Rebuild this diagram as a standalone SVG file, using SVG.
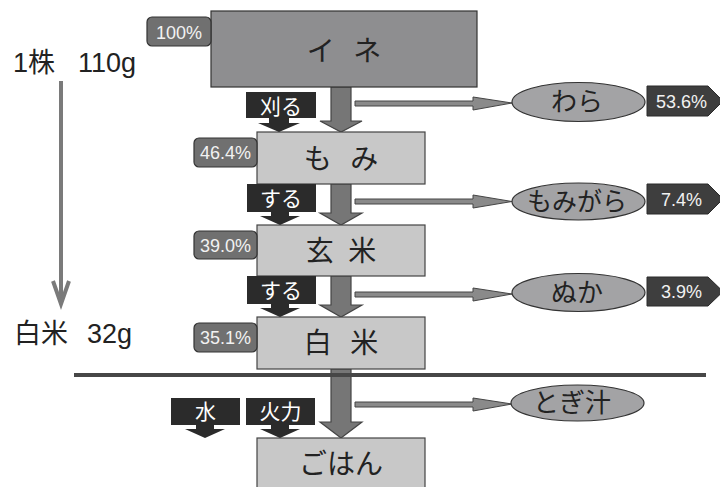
<svg xmlns="http://www.w3.org/2000/svg" width="720" height="487" viewBox="0 0 720 487">
<style>
.jp{font-family:"Noto Sans CJK JP","Liberation Sans",sans-serif;}
.num{font-family:"Liberation Sans","Noto Sans CJK JP",sans-serif;}
.boxD{fill:#8e8e90;stroke:#333;stroke-width:1.2;}
.boxL{fill:#c8c8c8;stroke:#444;stroke-width:1.2;}
.boxT{font-size:28px;fill:#222;text-anchor:middle;}
.badgeL{fill:#707070;stroke:#333;stroke-width:1.2;}
.badgeR{fill:#3e3e3e;stroke:#2a2a2a;stroke-width:1;}
.badgeT{font-size:18px;fill:#f2f2f2;text-anchor:middle;}
.lab{fill:#2b2b2b;}
.labT{font-size:21px;fill:#fff;text-anchor:middle;}
.main{fill:#767676;stroke:#444;stroke-width:1.2;}
.thin{fill:#8a8a8a;stroke:#444;stroke-width:1;}
.ell{fill:#a3a3a5;stroke:#333;stroke-width:1.2;}
.ellT{font-size:26px;fill:#222;text-anchor:middle;}
.side{font-size:27px;fill:#222;}
</style>

<g id="connectors">
  <!-- main down arrows -->
  <path class="main" d="M331,87 H351 V121 H362 L341,132 L320,121 H331 Z"/>
  <path class="main" d="M331,184 H351 V213 H362 L341,225 L320,213 H331 Z"/>
  <path class="main" d="M331,276 H351 V305 H362 L341,317 L320,305 H331 Z"/>
  <path class="main" d="M331,369 H351 V422 H362 L341,438 L320,422 H331 Z"/>
  <!-- thin side arrows -->
  <path class="thin" d="M355,101 H473 V97 L512,103 L473,110 V106 H355 Z"/>
  <path class="thin" d="M355,199 H473 V195 L512,201.5 L473,208 V204 H355 Z"/>
  <path class="thin" d="M355,292 H473 V288 L512,294 L473,301 V297 H355 Z"/>
  <path class="thin" d="M355,402 H473 V398 L512,404 L473,411 V407 H355 Z"/>
  <!-- divider -->
  <line x1="74" y1="375" x2="706" y2="375" stroke="#474747" stroke-width="4"/>
  <!-- left overall arrow -->
  <line x1="61" y1="81" x2="61" y2="303" stroke="#7a7a7a" stroke-width="4"/>
  <polyline points="53,281 61,304 69,281" fill="none" stroke="#7a7a7a" stroke-width="4" stroke-linejoin="miter"/>
</g>

<g id="ine">
  <rect class="boxD" x="211" y="11" width="266" height="76"/>
  <text class="jp boxT" x="344" y="61" word-spacing="12">イ ネ</text>
  <rect class="badgeL" x="147" y="17" width="64" height="29" rx="5"/>
  <text class="num badgeT" x="179" y="38.5">100%</text>
</g>

<g id="momi">
  <rect class="boxL" x="257" y="132" width="168" height="52"/>
  <text class="jp boxT" x="341" y="169" word-spacing="12">も み</text>
  <rect class="badgeL" x="194" y="138" width="63" height="29" rx="5"/>
  <text class="num badgeT" x="225.5" y="159">46.4%</text>
</g>

<g id="genmai">
  <rect class="boxL" x="257" y="225" width="168" height="51"/>
  <text class="jp boxT" x="341" y="261" word-spacing="8">玄 米</text>
  <rect class="badgeL" x="194" y="231" width="63" height="28" rx="5"/>
  <text class="num badgeT" x="225.5" y="251.5">39.0%</text>
</g>

<g id="hakumai">
  <rect class="boxL" x="257" y="317" width="168" height="52"/>
  <text class="jp boxT" x="341" y="353" word-spacing="12">白 米</text>
  <rect class="badgeL" x="194" y="323" width="63" height="29" rx="5"/>
  <text class="num badgeT" x="225.5" y="344">35.1%</text>
</g>

<g id="gohan">
  <rect class="boxL" x="257" y="438" width="168" height="60"/>
  <text class="jp boxT" x="341" y="474">ごはん</text>
</g>

<g id="label-karu">
  <path class="lab" d="M246,92 H316 V118 H289 V123 H300 L279,132 L258,123 H269 V118 H246 Z"/>
  <text class="jp labT" x="281" y="114">刈る</text>
</g>
<g id="label-suru1">
  <path class="lab" d="M247,184 H316 V212 H289 V216 H300 L280,225 L260,216 H271 V212 H247 Z"/>
  <text class="jp labT" x="281" y="206">する</text>
</g>
<g id="label-suru2">
  <path class="lab" d="M247,276 H316 V304 H289 V308 H300 L280,317 L260,308 H271 V304 H247 Z"/>
  <text class="jp labT" x="281" y="298">する</text>
</g>
<g id="label-mizu">
  <path class="lab" d="M171,398 H240 V425 H214 V429 H225 L205,438 L185,429 H196 V425 H171 Z"/>
  <text class="jp labT" x="205.5" y="419">水</text>
</g>
<g id="label-karyoku">
  <path class="lab" d="M246,398 H315 V425 H289 V429 H300 L280,438 L260,429 H271 V425 H246 Z"/>
  <text class="jp labT" x="280.5" y="419">火力</text>
</g>

<g id="wara">
  <ellipse class="ell" cx="578.5" cy="102" rx="66.5" ry="19.5"/>
  <text class="jp ellT" x="577" y="111">わら</text>
  <polygon class="badgeR" points="647,86 708,86 723,101 708,116 647,116"/>
  <text class="num badgeT" x="681.5" y="108">53.6%</text>
</g>

<g id="momigara">
  <ellipse class="ell" cx="578.5" cy="201.5" rx="66.5" ry="18.5"/>
  <text class="jp ellT" x="577" y="211" textLength="100" lengthAdjust="spacingAndGlyphs">もみがら</text>
  <polygon class="badgeR" points="647,184 708,184 723,199 708,214 647,214"/>
  <text class="num badgeT" x="681.5" y="206">7.4%</text>
</g>

<g id="nuka">
  <ellipse class="ell" cx="578.5" cy="292.5" rx="66.5" ry="19"/>
  <text class="jp ellT" x="577" y="302">ぬか</text>
  <polygon class="badgeR" points="647,277 708,277 723,291.5 708,306 647,306"/>
  <text class="num badgeT" x="681.5" y="298">3.9%</text>
</g>

<g id="togijiru">
  <ellipse class="ell" cx="577.5" cy="403" rx="66.5" ry="18"/>
  <text class="jp ellT" x="572" y="412">とぎ汁</text>
</g>

<g id="side-labels">
  <text class="num side" y="72"><tspan x="13">1株</tspan><tspan x="78">110g</tspan></text>
  <text class="num side" y="343"><tspan x="14">白米</tspan><tspan x="87">32g</tspan></text>
</g>
</svg>
